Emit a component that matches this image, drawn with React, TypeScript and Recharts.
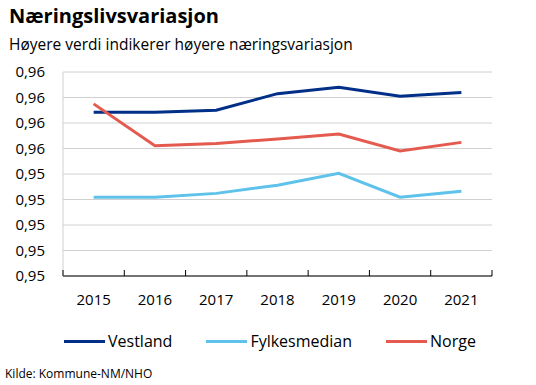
import React from 'react';
import { LineChart, Line, XAxis, YAxis, CartesianGrid } from 'recharts';

const years = ['2015', '2016', '2017', '2018', '2019', '2020', '2021'];
const vestland = [0.95884, 0.95884, 0.959, 0.9603, 0.9608, 0.9601, 0.9604];
const fylkesmedian = [0.95218, 0.95218, 0.95248, 0.95312, 0.95406, 0.95218, 0.95264];
const norge = [0.9595, 0.95622, 0.9564, 0.95674, 0.95714, 0.9558, 0.95648];
const yTicks = [0.946, 0.948, 0.95, 0.952, 0.954, 0.956, 0.958, 0.96, 0.962];

const FONT = '"Open Sans", "Noto Sans", sans-serif';

const series = [
  { key: 'vestland', name: 'Vestland', color: '#002f87' },
  { key: 'fylkesmedian', name: 'Fylkesmedian', color: '#5ec2ea' },
  { key: 'norge', name: 'Norge', color: '#e55a4e' },
];

const data = years.map((year, i) => ({
  year,
  vestland: vestland[i],
  fylkesmedian: fylkesmedian[i],
  norge: norge[i],
}));

const fmt = (v: number) => v.toFixed(2).replace('.', ',');

// year label at the band centre, tick marks on the band edges pointing up
const YearTick = (props: any) => {
  const { x, y, payload, index, visibleTicksCount } = props;
  const half = payload?.offset ?? 0;
  const last = index === visibleTicksCount - 1;
  return (
    <g>
      <line x1={x - half} x2={x - half} y1={y} y2={y - 6} stroke="#000" />
      {last && <line x1={x + half} x2={x + half} y1={y} y2={y - 6} stroke="#000" />}
      <text x={x} y={y + 18} dy="0.71em" textAnchor="middle" fill="#000" fontSize={15} fontFamily={FONT}>
        {payload.value}
      </text>
    </g>
  );
};

export default function App() {
  return (
    <div style={{ position: 'absolute', left: 0, top: 0, width: 536, height: 385, background: '#fff', fontFamily: FONT, color: '#000' }}>
      <div style={{ position: 'absolute', left: 9, top: 2, fontSize: 20, fontWeight: 700 }}>Næringslivsvariasjon</div>
      <div style={{ position: 'absolute', left: 9, top: 33, fontSize: 15.5 }}>Høyere verdi indikerer høyere næringsvariasjon</div>

      <div style={{ position: 'absolute', left: 0, top: 0 }}>
        <LineChart width={536} height={316} data={data} margin={{ top: 72, right: 44, left: 0, bottom: 0 }}>
          <CartesianGrid horizontal vertical={false} stroke="#d0d0d0" strokeWidth={1} />
          <XAxis
            dataKey="year"
            scale="band"
            height={40}
            axisLine={{ stroke: '#000' }}
            tickLine={false}
            tickSize={0}
            tickMargin={0}
            interval={0}
            tick={<YearTick />}
          />
          <YAxis
            domain={[0.946, 0.962]}
            ticks={yTicks}
            tickFormatter={fmt}
            width={63}
            axisLine={{ stroke: '#d0d0d0' }}
            tickLine={false}
            tickMargin={12}
            tick={{ fill: '#000', fontSize: 15, fontFamily: FONT }}
            interval={0}
          />
          <YAxis
            yAxisId="right"
            orientation="right"
            domain={[0, 1]}
            width={0}
            tick={false}
            tickLine={false}
            axisLine={{ stroke: '#d0d0d0' }}
          />
          {series.map((s) => (
            <Line
              key={s.key}
              dataKey={s.key}
              name={s.name}
              stroke={s.color}
              strokeWidth={3}
              dot={false}
              isAnimationActive={false}
            />
          ))}
        </LineChart>
      </div>

      <div style={{ position: 'absolute', left: 64, top: 330, display: 'flex', alignItems: 'center', fontSize: 16 }}>
        {series.map((s) => (
          <div key={s.key} style={{ display: 'flex', alignItems: 'center', marginRight: 34 }}>
            <span style={{ display: 'inline-block', width: 41, height: 3, background: s.color, marginRight: 3 }} />
            <span>{s.name}</span>
          </div>
        ))}
      </div>

      <div style={{ position: 'absolute', left: 5, top: 365, fontSize: 12 }}>Kilde: Kommune-NM/NHO</div>
    </div>
  );
}
